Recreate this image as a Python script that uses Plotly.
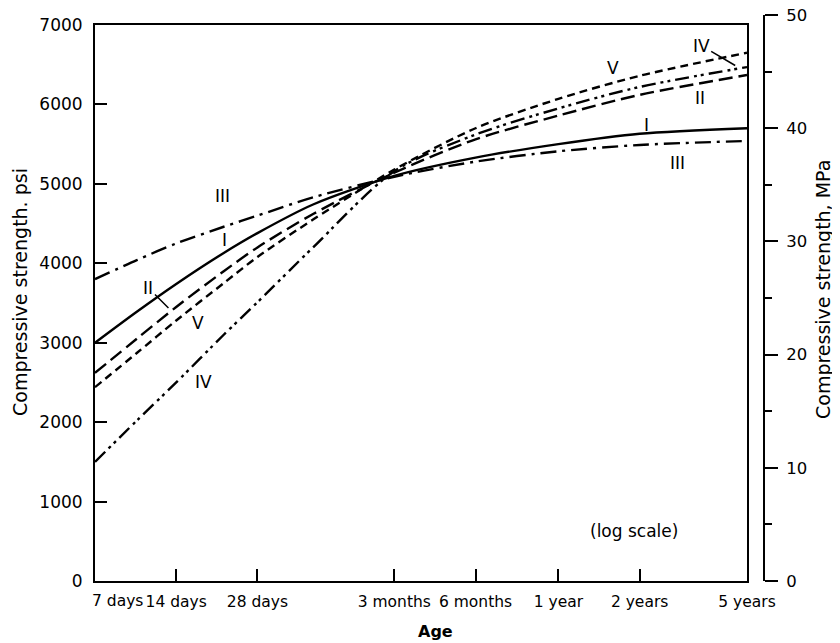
import math
import plotly.graph_objects as go

# ---- data ----
age_days = [7, 10, 14, 21, 28, 45, 90, 180, 365, 730, 1825]
type_I = [3000, 3390, 3740, 4130, 4380, 4740, 5100, 5330, 5500, 5630, 5700]
type_II = [2620, 3050, 3450, 3900, 4200, 4620, 5140, 5560, 5860, 6120, 6370]
type_III = [3800, 4040, 4250, 4460, 4600, 4830, 5090, 5280, 5410, 5490, 5540]
type_IV = [1500, 2020, 2500, 3100, 3510, 4200, 5160, 5620, 5950, 6220, 6470]
type_V = [2440, 2870, 3280, 3750, 4080, 4550, 5180, 5700, 6070, 6360, 6650]

x_tick_days = [7, 14, 28, 90, 180, 365, 730, 1825]
x_tick_text = ["7 days", "14 days", "28 days", "3 months", "6 months", "1 year", "2 years", "5 years"]
psi_ticks = [0, 1000, 2000, 3000, 4000, 5000, 6000, 7000]
mpa_ticks = [0, 10, 20, 30, 40, 50]
PSI_PER_MPA = 145.04

FONT = "DejaVu Sans"
series = [
    ("I", type_I, "solid"),
    ("II", type_II, "14px,6px"),
    ("III", type_III, "16px,6px,3px,6px"),
    ("IV", type_IV, "14px,5px,3px,4px,3px,5px"),
    ("V", type_V, "8px,5px"),
]

fig = go.Figure()
for name, vals, dash in series:
    fig.add_trace(go.Scatter(
        x=age_days, y=vals, mode="lines", name=name,
        line=dict(color="black", width=2.4, dash=dash, shape="spline", smoothing=0.8),
        showlegend=False, hoverinfo="skip"))

# invisible trace in MPa so the right axis is drawn
fig.add_trace(go.Scatter(
    x=age_days, y=[v / PSI_PER_MPA for v in type_I], yaxis="y2", mode="markers",
    marker=dict(opacity=0), showlegend=False, hoverinfo="skip"))

# page body has an 8px margin: work in reference pixels and shift
OFF = 8
W, H = 840 - OFF, 643 - OFF
ref_left, ref_right_axis, ref_top_axis, ref_bottom = 95, 764, 15, 581
ref_frame_right, ref_frame_top = 747, 25
L = ref_left - OFF
T = ref_top_axis - OFF
R = W - (ref_right_axis - OFF)
B = H - (ref_bottom - OFF)
pw = W - L - R
ph = H - T - B
xdom = (ref_frame_right - ref_left) / pw
ydom = (ref_bottom - ref_frame_top) / ph

def px(xr):
    return (xr - ref_left) / pw

def py(yr):
    return (ref_bottom - yr) / ph

def lg(d):
    return math.log10(d)

fig.update_layout(
    width=W, height=H, autosize=False,
    margin=dict(l=L, r=R, t=T, b=B, pad=0, autoexpand=False),
    paper_bgcolor="white", plot_bgcolor="rgba(0,0,0,0)",
    font=dict(family=FONT, size=17, color="black"),
    xaxis=dict(
        type="log", domain=[0, xdom], range=[lg(7), lg(1825)],
        tickvals=x_tick_days[1:], ticktext=x_tick_text[1:], tickangle=0,
        ticks="inside", ticklen=12, tickwidth=2, tickcolor="black",
        showline=True, linewidth=2, linecolor="black", mirror=True,
        showgrid=False, zeroline=False, ticklabelstandoff=5, automargin=False,
        tickfont=dict(family=FONT, size=15.5),
    ),
    yaxis=dict(
        domain=[0, ydom], range=[0, 7000],
        tickvals=psi_ticks, ticks="inside", ticklen=12, tickwidth=2, tickcolor="black",
        showline=True, linewidth=2, linecolor="black", mirror=True,
        showgrid=False, zeroline=False, ticklabelstandoff=7, automargin=False,
        tickfont=dict(family=FONT, size=17),
    ),
    yaxis2=dict(
        domain=[0, 1], range=[0, 50], anchor="free", position=1, side="right",
        tickvals=mpa_ticks, ticks="outside", ticklen=13, tickwidth=2, tickcolor="black",
        minor=dict(dtick=5, ticks="outside", ticklen=7, tickwidth=2, tickcolor="black"),
        showline=True, linewidth=2, linecolor="black", ticklabeloverflow="allow",
        showgrid=False, zeroline=False, ticklabelstandoff=5, automargin=False,
        tickfont=dict(family=FONT, size=16.5),
    ),
)

ann = []
# first x tick label, left-aligned at the axis start
ann.append(dict(x=lg(x_tick_days[0]), y=0, xref="x", yref="paper", text=x_tick_text[0],
                xanchor="left", yanchor="top", yshift=-9, xshift=-5, showarrow=False,
                font=dict(family=FONT, size=15.5)))
# axis titles
ann.append(dict(x=px(436), y=py(631), xref="paper", yref="paper", xanchor="center",
                yanchor="middle", text="<b>Age</b>", showarrow=False,
                font=dict(family=FONT, size=16)))
ann.append(dict(x=px(20), y=py(292), xref="paper", yref="paper", xanchor="center",
                yanchor="middle", text="Compressive strength. psi", textangle=-90,
                showarrow=False, font=dict(family=FONT, size=19)))
ann.append(dict(x=px(823), y=py(290), xref="paper", yref="paper", xanchor="center",
                yanchor="middle", text="Compressive strength, MPa", textangle=-90,
                showarrow=False, font=dict(family=FONT, size=19)))
ann.append(dict(x=lg(695), y=630, xref="x", yref="y", text="(log scale)",
                showarrow=False, font=dict(family=FONT, size=17)))

# curve labels (days, psi)
labels = [
    ("III", 20.7, 4847), ("I", 21.2, 4293), ("V", 16.8, 3248), ("IV", 17.6, 2505),
    ("V", 581, 6459), ("II", 1220, 6081), ("I", 776, 5741), ("III", 1012, 5263),
]
for t, d, p in labels:
    ann.append(dict(x=lg(d), y=p, xref="x", yref="y", text=t, showarrow=False,
                    font=dict(family=FONT, size=17)))
# labels with leader lines
ann.append(dict(x=lg(13.1), y=3437, xref="x", yref="y", text="II", showarrow=True,
                arrowhead=0, arrowwidth=1.5, arrowcolor="black", ax=-20, ay=-20,
                font=dict(family=FONT, size=17)))
ann.append(dict(x=lg(1650), y=6490, xref="x", yref="y", text="IV", showarrow=True,
                arrowhead=0, arrowwidth=1.5, arrowcolor="black", ax=-34, ay=-20,
                font=dict(family=FONT, size=17)))
fig.update_layout(annotations=ann)

fig.write_html("out.html")
